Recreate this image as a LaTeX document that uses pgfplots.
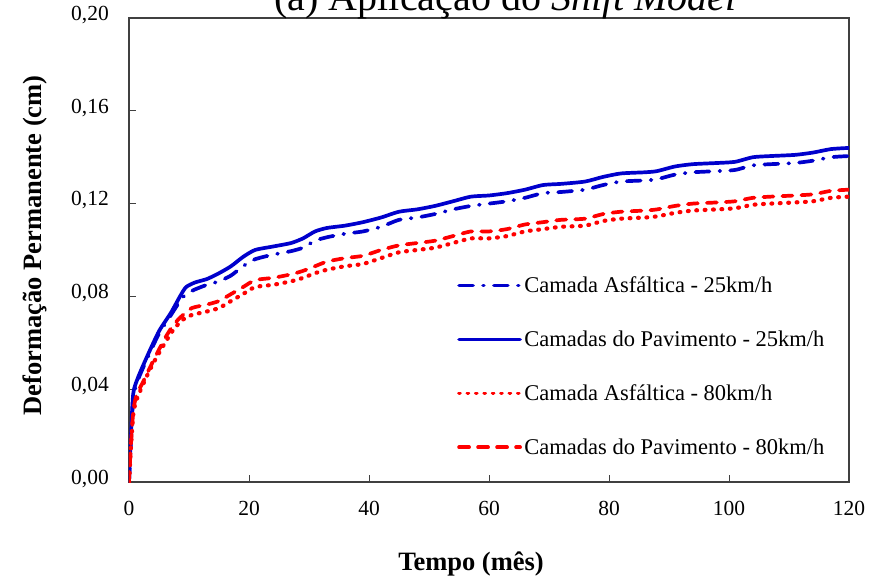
\documentclass[border=0pt]{standalone}
\usepackage{fontspec}
\setmainfont{Liberation Serif}
\usepackage{pgfplots}
\pgfplotsset{compat=1.18}
\definecolor{serieblue}{RGB}{0,0,204}
\definecolor{seriered}{RGB}{255,0,0}

\begin{document}
\begin{tikzpicture}
\begin{axis}[
  scale only axis, width=720pt, height=464pt,
  xmin=0, xmax=120, ymin=0, ymax=0.20,
  xtick={0,20,40,60,80,100,120},
  ytick={0,0.04,0.08,0.12,0.16,0.20},
  scaled y ticks=false,
  tick align=inside, xtick pos=left, ytick pos=left,
  major tick length=7pt,
  axis line style={black!75, line width=1.2pt},
  tick style={black!75, line width=1pt},
  /pgf/number format/assume math mode=true,
  ticklabel style={font=\fontsize{21.5}{25}\selectfont, inner sep=0pt},
  xticklabel style={anchor=base, yshift=-33pt},
  yticklabel style={anchor=mid east, xshift=-20pt,
    /pgf/number format/.cd, use comma, fixed, fixed zerofill, precision=2},
  xlabel={\textbf{Tempo (mês)}},
  ylabel={\textbf{Deformação Permanente (cm)}},
  label style={font=\fontsize{26.5}{31}\selectfont, inner sep=0pt},
  xlabel style={at={(axis description cs:0.475,0)}, anchor=base, yshift=-88pt},
  ylabel style={at={(axis description cs:-0.1222,0.51)}, anchor=base},
  legend style={draw=none, fill=none, at={(0.4556,0.448)}, anchor=north west,
    font=\fontsize{22.5}{27}\selectfont, row sep=31.7pt, inner sep=0pt,
    nodes={inner sep=2.5pt}},
  legend cell align=left,
  legend image code/.code={\draw[line width=3.7pt, line cap=round, #1] (0pt,0pt) -- (61pt,0pt);},
  every axis plot/.append style={line width=3.7pt, line cap=round, line join=round, smooth, tension=0.4},
]
% Camada Asfaltica - 25 km/h
\addplot[serieblue, dash pattern=on 14pt off 10pt on 0.8pt off 10pt] coordinates {
(0,0) (0.3,0.016) (0.7,0.036) (1.5,0.044) (3,0.053) (5,0.064) (7,0.072)
(8.5,0.078) (9.5,0.081) (11,0.083) (13,0.085) (15,0.0865) (17,0.089)
(19,0.093) (21,0.096) (24,0.098) (27,0.0995) (29,0.101) (31,0.104)
(33,0.1055) (36,0.107) (39,0.108) (42,0.110) (45,0.113) (48,0.114)
(51,0.1155) (54,0.1175) (57,0.119) (60,0.120) (63,0.121) (66,0.1225)
(69,0.1245) (72,0.125) (76,0.126) (79,0.128) (82,0.1295) (86,0.130)
(88,0.1305) (91,0.1325) (94,0.1335) (98,0.134) (101,0.1345) (104,0.1365)
(107,0.137) (111,0.1375) (114,0.1385) (117,0.140) (120,0.1405)};
\addlegendentry{Camada Asfáltica - 25km/h}
% Camadas do Pavimento - 25 km/h
\addplot[serieblue] coordinates {
(0,0) (0.3,0.018) (0.7,0.038) (1.5,0.045) (3,0.054) (5,0.065) (7,0.073)
(8.5,0.080) (9.5,0.084) (11,0.086) (13,0.0875) (15,0.090) (17,0.093)
(19,0.097) (21,0.100) (24,0.1015) (27,0.103) (29,0.105) (31,0.108)
(33,0.1095) (36,0.1105) (39,0.112) (42,0.114) (45,0.1165) (48,0.1175)
(51,0.119) (54,0.121) (57,0.123) (60,0.1235) (63,0.1245) (66,0.126)
(69,0.128) (72,0.1285) (76,0.1295) (79,0.1315) (82,0.133) (86,0.1335)
(88,0.134) (91,0.136) (94,0.137) (98,0.1375) (101,0.138) (104,0.140)
(107,0.1405) (111,0.141) (114,0.142) (117,0.1435) (120,0.144)};
\addlegendentry{Camadas do Pavimento - 25km/h}
% Camada Asfaltica - 80 km/h
\addplot[seriered, line width=4.2pt, dash pattern=on 0.8pt off 7.6pt] coordinates {
(0,0) (0.3,0.014) (0.7,0.029) (1.2,0.035) (2.5,0.043) (4,0.051) (6,0.060)
(7.5,0.066) (9,0.070) (10.5,0.072) (13,0.0735) (15,0.075) (17,0.078)
(19,0.081) (21,0.084) (24,0.085) (27,0.0865) (29,0.088) (31,0.090)
(33,0.0915) (36,0.093) (39,0.094) (42,0.0965) (45,0.099) (48,0.100)
(51,0.101) (54,0.103) (57,0.105) (60,0.105) (63,0.106) (66,0.108)
(69,0.109) (72,0.110) (76,0.1105) (79,0.1125) (82,0.1135) (86,0.114)
(88,0.1145) (91,0.116) (94,0.117) (98,0.1175) (101,0.118) (104,0.1195)
(107,0.120) (111,0.1205) (114,0.121) (117,0.1225) (120,0.123)};
\addlegendentry{Camada Asfáltica - 80km/h}
% Camadas do Pavimento - 80 km/h
\addplot[seriered, dash pattern=on 10pt off 9pt] coordinates {
(0,0) (0.3,0.015) (0.7,0.030) (1.2,0.037) (2.5,0.044) (4,0.052) (6,0.062)
(7.5,0.068) (9,0.072) (10.5,0.075) (13,0.0765) (15,0.078) (17,0.081)
(19,0.084) (21,0.087) (24,0.088) (27,0.0895) (29,0.091) (31,0.093)
(33,0.095) (36,0.0965) (39,0.0975) (42,0.100) (45,0.102) (48,0.103)
(51,0.104) (54,0.106) (57,0.108) (60,0.108) (63,0.109) (66,0.111)
(69,0.112) (72,0.113) (76,0.1135) (79,0.1155) (82,0.1165) (86,0.117)
(88,0.1175) (91,0.119) (94,0.120) (98,0.1205) (101,0.121) (104,0.1225)
(107,0.123) (111,0.1235) (114,0.124) (117,0.1255) (120,0.126)};
\addlegendentry{Camadas do Pavimento - 80km/h}

\coordinate (bl) at (rel axis cs:0,0);
\coordinate (tr) at (rel axis cs:1,1);
\coordinate (tt) at (rel axis cs:0.523,1);
\end{axis}
% figure caption, partly above the page edge
\node[anchor=base, font=\fontsize{40}{46}\selectfont, inner sep=0pt]
  at ([yshift=7pt]tt) {(a) Aplicação do \textit{Shift Model}};
\pgfresetboundingbox
\path ([shift={(-129pt,-96pt)}]bl) rectangle ([shift={(20pt,18pt)}]tr);
\end{tikzpicture}
\end{document}
